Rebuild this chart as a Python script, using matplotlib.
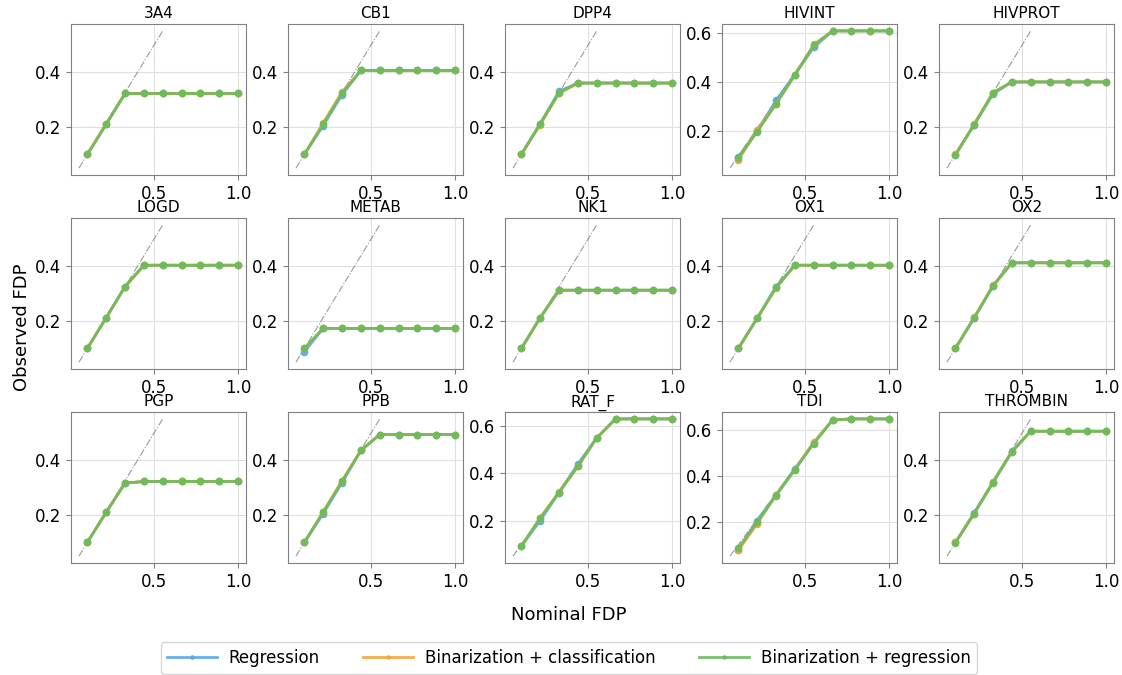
import numpy as np
import matplotlib
matplotlib.use("Agg")
from matplotlib import pyplot as plt

nominal = np.linspace(0.1, 1.0, 9)

datasets = ["3A4", "CB1", "DPP4", "HIVINT", "HIVPROT",
            "LOGD", "METAB", "NK1", "OX1", "OX2",
            "PGP", "PPB", "RAT_F", "TDI", "THROMBIN"]

# observed FDP per dataset: regression / binarization+classification / binarization+regression
regression = {
    "3A4":      [0.100, 0.210, 0.322, 0.322, 0.322, 0.322, 0.322, 0.322, 0.322],
    "CB1":      [0.100, 0.205, 0.318, 0.406, 0.406, 0.406, 0.406, 0.406, 0.406],
    "DPP4":     [0.100, 0.212, 0.330, 0.360, 0.360, 0.360, 0.360, 0.360, 0.360],
    "HIVINT":   [0.095, 0.200, 0.325, 0.430, 0.540, 0.607, 0.607, 0.607, 0.607],
    "HIVPROT":  [0.098, 0.208, 0.320, 0.364, 0.364, 0.364, 0.364, 0.364, 0.364],
    "LOGD":     [0.100, 0.212, 0.325, 0.403, 0.403, 0.403, 0.403, 0.403, 0.403],
    "METAB":    [0.088, 0.173, 0.173, 0.173, 0.173, 0.173, 0.173, 0.173, 0.173],
    "NK1":      [0.100, 0.212, 0.312, 0.312, 0.312, 0.312, 0.312, 0.312, 0.312],
    "OX1":      [0.100, 0.210, 0.325, 0.403, 0.403, 0.403, 0.403, 0.403, 0.403],
    "OX2":      [0.100, 0.210, 0.328, 0.412, 0.412, 0.412, 0.412, 0.412, 0.412],
    "PGP":      [0.100, 0.210, 0.316, 0.322, 0.322, 0.322, 0.322, 0.322, 0.322],
    "PPB":      [0.100, 0.205, 0.318, 0.435, 0.493, 0.493, 0.493, 0.493, 0.493],
    "RAT_F":    [0.092, 0.200, 0.318, 0.438, 0.548, 0.628, 0.628, 0.628, 0.628],
    "TDI":      [0.078, 0.205, 0.318, 0.432, 0.545, 0.645, 0.650, 0.650, 0.650],
    "THROMBIN": [0.100, 0.208, 0.320, 0.432, 0.505, 0.505, 0.505, 0.505, 0.505],
}
classification = {
    "3A4":      [0.100, 0.212, 0.322, 0.322, 0.322, 0.322, 0.322, 0.322, 0.322],
    "CB1":      [0.100, 0.215, 0.328, 0.406, 0.406, 0.406, 0.406, 0.406, 0.406],
    "DPP4":     [0.100, 0.208, 0.322, 0.360, 0.360, 0.360, 0.360, 0.360, 0.360],
    "HIVINT":   [0.082, 0.205, 0.312, 0.428, 0.552, 0.607, 0.607, 0.607, 0.607],
    "HIVPROT":  [0.100, 0.212, 0.325, 0.364, 0.364, 0.364, 0.364, 0.364, 0.364],
    "LOGD":     [0.100, 0.212, 0.325, 0.403, 0.403, 0.403, 0.403, 0.403, 0.403],
    "METAB":    [0.100, 0.173, 0.173, 0.173, 0.173, 0.173, 0.173, 0.173, 0.173],
    "NK1":      [0.100, 0.212, 0.312, 0.312, 0.312, 0.312, 0.312, 0.312, 0.312],
    "OX1":      [0.100, 0.210, 0.320, 0.403, 0.403, 0.403, 0.403, 0.403, 0.403],
    "OX2":      [0.100, 0.214, 0.330, 0.412, 0.412, 0.412, 0.412, 0.412, 0.412],
    "PGP":      [0.102, 0.210, 0.316, 0.322, 0.322, 0.322, 0.322, 0.322, 0.322],
    "PPB":      [0.100, 0.212, 0.325, 0.435, 0.493, 0.493, 0.493, 0.493, 0.493],
    "RAT_F":    [0.092, 0.212, 0.320, 0.428, 0.548, 0.628, 0.628, 0.628, 0.628],
    "TDI":      [0.075, 0.192, 0.318, 0.428, 0.548, 0.645, 0.650, 0.650, 0.650],
    "THROMBIN": [0.100, 0.205, 0.320, 0.430, 0.505, 0.505, 0.505, 0.505, 0.505],
}
bin_regression = {
    "3A4":      [0.100, 0.210, 0.322, 0.322, 0.322, 0.322, 0.322, 0.322, 0.322],
    "CB1":      [0.100, 0.210, 0.322, 0.406, 0.406, 0.406, 0.406, 0.406, 0.406],
    "DPP4":     [0.100, 0.212, 0.325, 0.360, 0.360, 0.360, 0.360, 0.360, 0.360],
    "HIVINT":   [0.092, 0.198, 0.310, 0.428, 0.548, 0.607, 0.607, 0.607, 0.607],
    "HIVPROT":  [0.098, 0.208, 0.325, 0.364, 0.364, 0.364, 0.364, 0.364, 0.364],
    "LOGD":     [0.100, 0.212, 0.325, 0.403, 0.403, 0.403, 0.403, 0.403, 0.403],
    "METAB":    [0.100, 0.173, 0.173, 0.173, 0.173, 0.173, 0.173, 0.173, 0.173],
    "NK1":      [0.100, 0.212, 0.312, 0.312, 0.312, 0.312, 0.312, 0.312, 0.312],
    "OX1":      [0.100, 0.210, 0.322, 0.403, 0.403, 0.403, 0.403, 0.403, 0.403],
    "OX2":      [0.100, 0.212, 0.328, 0.412, 0.412, 0.412, 0.412, 0.412, 0.412],
    "PGP":      [0.100, 0.210, 0.316, 0.322, 0.322, 0.322, 0.322, 0.322, 0.322],
    "PPB":      [0.100, 0.210, 0.322, 0.435, 0.493, 0.493, 0.493, 0.493, 0.493],
    "RAT_F":    [0.092, 0.210, 0.318, 0.428, 0.548, 0.628, 0.628, 0.628, 0.628],
    "TDI":      [0.085, 0.198, 0.315, 0.428, 0.542, 0.645, 0.650, 0.650, 0.650],
    "THROMBIN": [0.098, 0.205, 0.318, 0.430, 0.505, 0.505, 0.505, 0.505, 0.505],
}

methods = ["Regression", "Binarization + classification", "Binarization + regression"]
colors = ["#5aa5ec", "#f5a43a", "#6bbd5b"]
series = [regression, classification, bin_regression]

fig, axes = plt.subplots(3, 5, figsize=(11.22, 6.75), dpi=100)
fig.subplots_adjust(left=0.0633, right=0.9929, top=0.9644, bottom=0.1659,
                    wspace=0.24, hspace=0.285)

for ax, name in zip(axes.flat, datasets):
    ax.plot([0.05, 0.55], [0.05, 0.55], color="gray", ls="-.", lw=0.8, alpha=0.8)
    for s, c, m in zip(series, colors, methods):
        ax.plot(nominal, s[name], color=c, lw=2, marker="o", ms=4.5, alpha=0.9, label=m)
    ax.set_title(name, fontsize=11, pad=4)
    ax.grid(True, color="#e0e0e0", lw=0.8)
    ax.set_axisbelow(True)
    ax.set_xticks([0.5, 1.0])
    ax.tick_params(labelsize=12, color="gray")
    for sp in ax.spines.values():
        sp.set_color("gray")

fig.supxlabel("Nominal FDP", fontsize=13, x=0.507, y=0.076)
fig.supylabel("Observed FDP", fontsize=13, x=0.012, y=0.515)

handles, labels = axes[0, 0].get_legend_handles_labels()
fig.legend(handles, labels, loc="center", bbox_to_anchor=(0.507, 0.025), ncol=3,
           fontsize=12, frameon=True, handlelength=3.0, handletextpad=0.7,
           columnspacing=2.6, markerscale=0.5)

plt.savefig("out.png")
